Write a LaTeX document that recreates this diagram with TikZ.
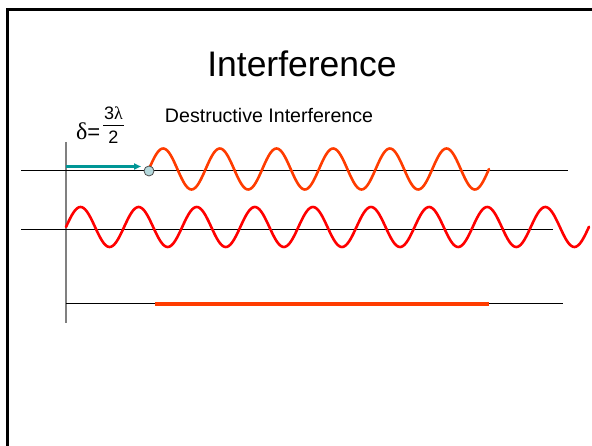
\documentclass[tikz,border=0pt]{standalone}
\usepackage{fontspec}
\setmainfont{Liberation Sans}
\newfontfamily\greekfont{Liberation Serif}
\usetikzlibrary{arrows.meta}
\definecolor{waveA}{RGB}{255,60,0}
\definecolor{waveB}{RGB}{255,0,0}
\definecolor{tealarrow}{RGB}{0,150,150}
\definecolor{dotfill}{RGB}{180,216,220}
\definecolor{axisgray}{RGB}{128,128,128}
\begin{document}
\begin{tikzpicture}[x=1pt,y=-1pt,
  axisline/.style={line width=1pt,black},
  wavestyle/.style={line width=2.6pt,line join=round,line cap=round},
  txt/.style={inner sep=0pt,outer sep=0pt}]
\useasboundingbox (0,0) rectangle (592,446);
\clip (0,0) rectangle (592,446);
% frame
\draw[line width=3pt] (7.5,470) -- (7.5,9.5) -- (620,9.5);
% title
\node[txt,anchor=base,font=\fontsize{35.5}{40}\selectfont] (title) at (302,77) {Interference};
\node[txt,anchor=base,font=\fontsize{19.6}{22}\selectfont] (dlabel) at (269,123) {Destructive Interference};
% delta label
\node[txt,anchor=base west,font=\fontsize{22}{24}\selectfont] (delta) at (76,140) {{\greekfont\fontsize{24}{26}\selectfont δ}=};
\node[txt,anchor=base,font=\fontsize{18}{20}\selectfont] (num) at (113.5,120) {3{\greekfont λ}};
\node[txt,anchor=base,font=\fontsize{18}{20}\selectfont] (den) at (113.5,144) {2};
\coordinate (barL) at (103,125);
\coordinate (barR) at (124,125);
\draw[line width=0.8pt] (barL) -- (barR);
% axes
\coordinate (vtop) at (66,142);
\coordinate (vbot) at (66,323);
\draw[line width=1.6pt,axisgray] (vtop) -- (vbot);
\coordinate (h1L) at (21,171);
\coordinate (h1R) at (568,171);
\coordinate (h2L) at (21,230);
\coordinate (h2R) at (553,230);
\coordinate (h3L) at (66,304);
\coordinate (h3R) at (563,304);
\draw[axisline] (h1L) -- (h1R);
\draw[axisline] (h2L) -- (h2R);
\draw[axisline] (h3L) -- (h3R);
% result line
\coordinate (rL) at (155,304);
\coordinate (rR) at (489,304);
\draw[line width=3.2pt,waveA] (rL) -- (rR);
% waves
\draw[wavestyle,waveA] plot[domain=0:340,samples=241,smooth] ({149+\x},{169-20.5*sin(\x/56.67*360)});
\draw[wavestyle,waveB] plot[domain=0:523,samples=361,smooth] ({66+\x},{227-20*sin(\x/58.1*360)});
% arrow and dot
\coordinate (astart) at (66,166.5);
\node[circle,draw=black!70,fill=dotfill,line width=0.8pt,minimum size=10pt,inner sep=0pt] (dot) at (149,171) {};
\coordinate (aend) at (141,166.5);
\draw[tealarrow,line width=2.2pt,-{Triangle[length=7pt,width=6pt]}] (astart) -- (aend);
\end{tikzpicture}
\end{document}
